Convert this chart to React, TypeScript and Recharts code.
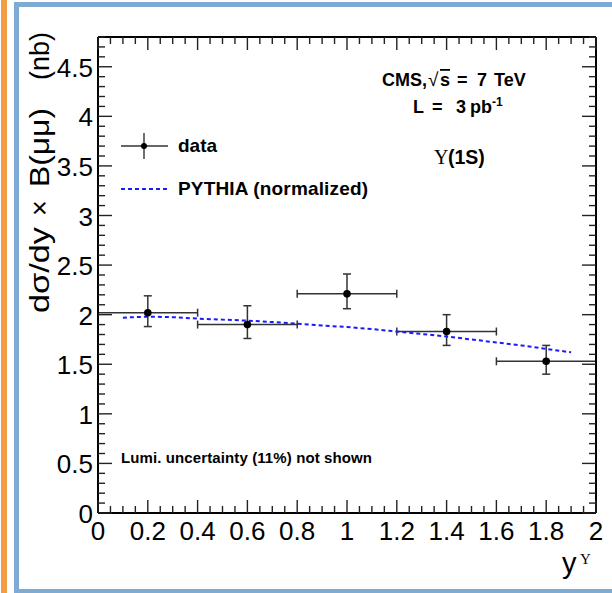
/**
 * Upsilon(1S) rapidity differential cross section, CMS 7 TeV, 3 pb^-1.
 * ROOT-style frame: ticks inside on all four sides, data with x/y error bars,
 * PYTHIA (normalized) as a dashed blue curve.
 */
import { ComposedChart, Customized, ErrorBar, Scatter, XAxis, YAxis } from "recharts";

// measured points (bin centres in |y|, bin half width 0.2)
const binCentres = [0.2, 0.6, 1.0, 1.4, 1.8];
const binHalfWidths = [0.2, 0.2, 0.2, 0.2, 0.2];
const crossSection = [2.02, 1.9, 2.21, 1.83, 1.53];
const errLow = [0.14, 0.14, 0.15, 0.14, 0.13];
const errHigh = [0.17, 0.19, 0.2, 0.17, 0.16];

// PYTHIA prediction, normalized
const pythiaX = [0.1, 0.2, 0.3, 0.4, 0.5, 0.6, 0.7, 0.8, 0.9, 1.0, 1.1, 1.2, 1.3, 1.4, 1.5, 1.6, 1.7, 1.8, 1.9];
const pythiaY = [1.97, 1.98, 1.975, 1.96, 1.95, 1.94, 1.925, 1.91, 1.89, 1.875, 1.855, 1.83, 1.805, 1.78, 1.75, 1.72, 1.69, 1.655, 1.62];

// axis ticks / labels
const xMajorTicks = [0, 0.2, 0.4, 0.6, 0.8, 1, 1.2, 1.4, 1.6, 1.8, 2];
const xTickLabels = ["0", "0.2", "0.4", "0.6", "0.8", "1", "1.2", "1.4", "1.6", "1.8", "2"];
const yMajorTicks = [0, 0.5, 1, 1.5, 2, 2.5, 3, 3.5, 4, 4.5];
const yTickLabels = ["0", "0.5", "1", "1.5", "2", "2.5", "3", "3.5", "4", "4.5"];

const X_MAX = 2;
const Y_MAX = 4.8;

// minor ticks every 0.05 in x, 0.1 in y
const xAllTicks = Array.from({ length: 41 }, (_, i) => Math.round(i * 5) / 100);
const yAllTicks = Array.from({ length: 49 }, (_, i) => Math.round(i * 10) / 100);

const data = binCentres.map((x, i) => ({
  x,
  y: crossSection[i],
  xerr: binHalfWidths[i],
  yerr: [errLow[i], errHigh[i]],
}));
const pythia = pythiaX.map((x, i) => ({ x, y: pythiaY[i] }));

const FONT = "'Liberation Sans', Arial, Helvetica, sans-serif";
const SERIF = "'Liberation Serif', 'Times New Roman', serif";
const TICK = "#222";

function majorIndex(v: number, list: number[]) {
  return list.findIndex((m) => Math.abs(m - v) < 1e-6);
}

// one tick component per side; major ticks longer, labels only on bottom/left
function makeTick(side: "bottom" | "top" | "left" | "right") {
  return (props: any) => {
    const { x, y, payload } = props;
    const v = payload.value as number;
    const isX = side === "bottom" || side === "top";
    const idx = majorIndex(v, isX ? xMajorTicks : yMajorTicks);
    const major = idx >= 0;
    const len = isX ? (major ? 13 : 7) : major ? 14 : 7;
    let line;
    if (side === "bottom") line = <line x1={x} x2={x} y1={y} y2={y - len} />;
    else if (side === "top") line = <line x1={x} x2={x} y1={y} y2={y + len} />;
    else if (side === "left") line = <line x1={x} x2={x + len} y1={y} y2={y} />;
    else line = <line x1={x} x2={x - len} y1={y} y2={y} />;
    return (
      <g>
        <g stroke={TICK} strokeWidth={1.4}>{line}</g>
        {major && side === "bottom" && (
          <text x={x} y={y + 27} textAnchor="middle" fontFamily={FONT} fontSize={26} fill="#000">
            {xTickLabels[idx]}
          </text>
        )}
        {major && side === "left" && (
          <text x={x - 5} y={y + 10} textAnchor="end" fontFamily={FONT} fontSize={26} fill="#000">
            {yTickLabels[idx]}
          </text>
        )}
      </g>
    );
  };
}

function Annotations() {
  return (
    <g fontFamily={FONT} fill="#000">
      {/* y title, rotated */}
      <g fontSize={27}>
        <text transform="translate(49,313) rotate(-90)" textLength={86} lengthAdjust="spacingAndGlyphs">dσ/dy</text>
        <text transform="translate(49,216) rotate(-90)">×</text>
        <text transform="translate(49,187) rotate(-90)" textLength={79} lengthAdjust="spacingAndGlyphs">B(μμ)</text>
        <text transform="translate(49,80) rotate(-90)" textLength={48} lengthAdjust="spacingAndGlyphs">(nb)</text>
      </g>
      {/* x title */}
      <text x={562} y={573} fontSize={29}>y</text>
      <text x={580} y={564} fontSize={15} fontFamily={SERIF}>Υ</text>

      {/* CMS labels */}
      <text y={86} fontSize={18} fontWeight="bold">
        <tspan x={382}>CMS,</tspan>
        <tspan x={428} fontWeight="normal" fontSize={19}>√</tspan>
        <tspan x={440} style={{ textDecoration: "overline" }}>s</tspan>
        <tspan x={457}>=</tspan>
        <tspan x={477}>7</tspan>
        <tspan x={494}>TeV</tspan>
      </text>
      <text y={113} fontSize={18} fontWeight="bold">
        <tspan x={413}>L</tspan>
        <tspan x={432}>=</tspan>
        <tspan x={456}>3</tspan>
        <tspan x={470}>pb</tspan>
        <tspan x={492} fontSize={12} dy={-7}>-1</tspan>
      </text>
      <text x={434} y={164} fontSize={20} fontFamily={SERIF}>
        Υ<tspan x={448} fontFamily={FONT} fontWeight="bold" fontSize={19.5}>(1S)</tspan>
      </text>

      {/* legend */}
      <g stroke="#333" strokeWidth={1.4}>
        <line x1={121} x2={168} y1={146} y2={146} />
        <line x1={144} x2={144} y1={133} y2={159} />
      </g>
      <circle cx={144} cy={146} r={3} fill="#000" />
      <text x={178} y={152} fontSize={19} fontWeight="bold">data</text>
      <line x1={121} x2={168} y1={189} y2={189} stroke="#1a1aff" strokeWidth={2} strokeDasharray="4 3" />
      <text x={178} y={195} fontSize={19} fontWeight="bold" textLength={190}>PYTHIA (normalized)</text>

      <text x={121} y={463} fontSize={15} fontWeight="bold" textLength={251}>Lumi. uncertainty (11%) not shown</text>
    </g>
  );
}

const Dot = (props: any) => <circle cx={props.cx} cy={props.cy} r={3.8} fill="#000" />;
const NoDot = () => <g />;

const axisLine = { stroke: "#000", strokeWidth: 2 };

export default function App() {
  return (
    <div style={{ position: "absolute", left: 0, top: 0, width: 612, height: 593, overflow: "hidden", background: "#fff" }}>
      {/* slide frames */}
      <div style={{ position: "absolute", left: 1, top: 0, width: 6, height: 593, background: "#f29d45" }} />
      <div
        style={{
          position: "absolute",
          left: 14,
          top: 2,
          width: 640,
          height: 582,
          borderTop: "5px solid #7eaad3",
          borderLeft: "5px solid #7eaad3",
          borderBottom: "4px solid #7eaad3",
        }}
      />
      <div style={{ position: "absolute", left: 0, top: 0 }}>
        <ComposedChart width={612} height={593} margin={{ top: 36, right: 15, bottom: 79, left: 97 }}>
          <XAxis
            xAxisId="b"
            type="number"
            dataKey="x"
            domain={[0, X_MAX]}
            ticks={xAllTicks}
            interval={0}
            height={1}
            tickSize={0}
            tickMargin={0}
            allowDataOverflow
            axisLine={axisLine}
            tickLine={false}
            tick={makeTick("bottom")}
          />
          <XAxis
            xAxisId="t"
            orientation="top"
            type="number"
            dataKey="x"
            domain={[0, X_MAX]}
            ticks={xAllTicks}
            interval={0}
            height={1}
            tickSize={0}
            tickMargin={0}
            allowDataOverflow
            axisLine={axisLine}
            tickLine={false}
            tick={makeTick("top")}
          />
          <YAxis
            yAxisId="l"
            type="number"
            dataKey="y"
            domain={[0, Y_MAX]}
            ticks={yAllTicks}
            interval={0}
            width={1}
            tickSize={0}
            tickMargin={0}
            allowDataOverflow
            axisLine={axisLine}
            tickLine={false}
            tick={makeTick("left")}
          />
          <YAxis
            yAxisId="r"
            orientation="right"
            type="number"
            dataKey="y"
            domain={[0, Y_MAX]}
            ticks={yAllTicks}
            interval={0}
            width={1}
            tickSize={0}
            tickMargin={0}
            allowDataOverflow
            axisLine={axisLine}
            tickLine={false}
            tick={makeTick("right")}
          />
          <Scatter
            xAxisId="b"
            yAxisId="l"
            data={pythia}
            line={{ stroke: "#1a1aff", strokeWidth: 2, strokeDasharray: "4 3" }}
            shape={NoDot}
            isAnimationActive={false}
          />
          <Scatter xAxisId="b" yAxisId="l" data={data} shape={Dot} isAnimationActive={false}>
            <ErrorBar dataKey="xerr" direction="x" width={4} stroke="#333" strokeWidth={1.5} isAnimationActive={false} />
            <ErrorBar dataKey="yerr" direction="y" width={4} stroke="#333" strokeWidth={1.5} isAnimationActive={false} />
          </Scatter>
          <Customized component={Annotations} />
        </ComposedChart>
      </div>
    </div>
  );
}
